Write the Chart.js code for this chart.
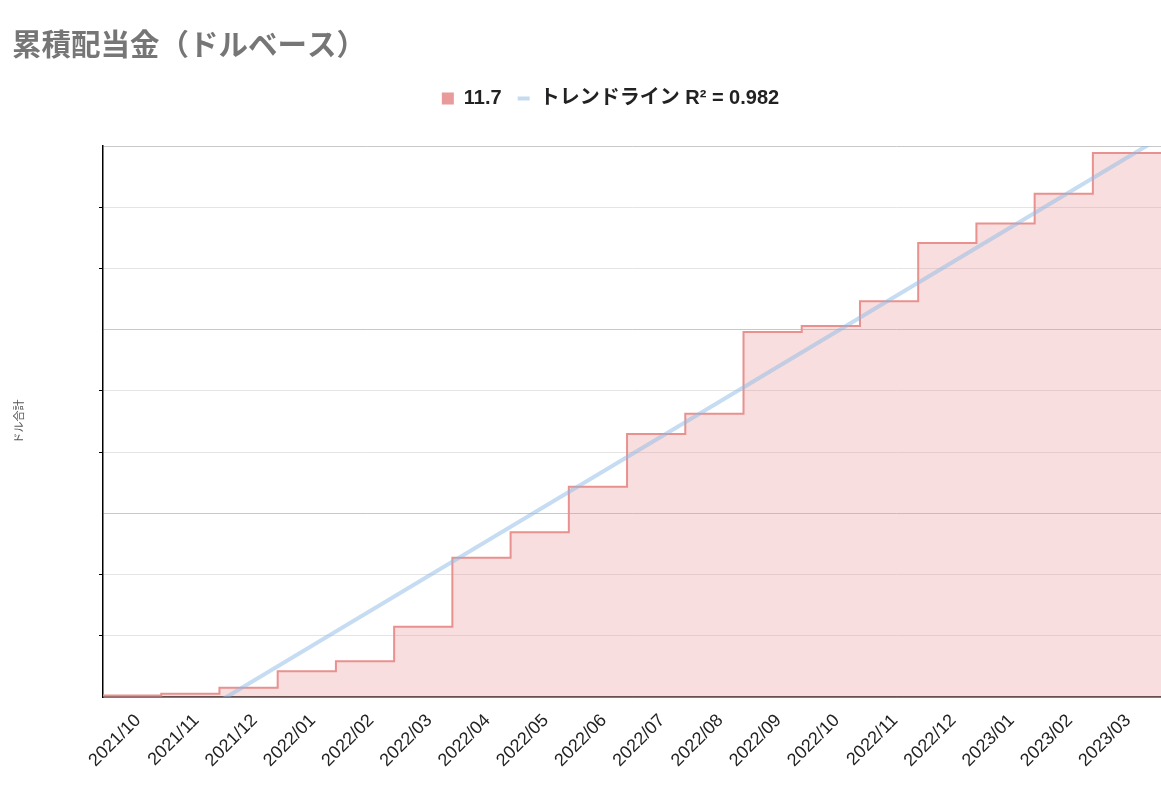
<!DOCTYPE html>
<html lang="ja">
<head>
<meta charset="utf-8">
<title>累積配当金（ドルベース）</title>
<script src="https://cdn.jsdelivr.net/npm/chart.js@4.4.1/dist/chart.umd.min.js"></script>
<style>
  html, body { margin: 0; padding: 0; background: #fff; }
  #wrap { width: 1161px; height: 789px; position: relative; }
</style>
</head>
<body>
<div id="wrap"><canvas id="myChart"></canvas></div>
<script>
// 月ラベル (x軸)
var months = ['2021/10', '2021/11', '2021/12', '2022/01', '2022/02', '2022/03',
              '2022/04', '2022/05', '2022/06', '2022/07', '2022/08', '2022/09',
              '2022/10', '2022/11', '2022/12', '2023/01', '2023/02', '2023/03'];
// 累積配当金 (ドル) 各月末
var totals = [0.03, 0.07, 0.20, 0.56, 0.78, 1.53, 3.03, 3.59, 4.58, 5.73,
              6.17, 7.95, 8.08, 8.62, 9.89, 10.31, 10.96, 11.85];
// x軸の右端 (最終月は途中まで)
var xEnd = 18.17;
// トレンドライン 両端
var trendX = [0, 18.17];
var trendY = [-1.61, 12.19];
var seriesLabel = '11.7';
var trendLabel = 'トレンドライン R² = 0.982';
var yMax = 12;

var FONT = "'Liberation Sans', 'Noto Sans CJK JP', sans-serif";

// 階段線: 各月の値を月の始まりから終わりまで
var stepData = months.map(function (m, i) { return { x: i, y: totals[i] }; });
stepData.push({ x: xEnd, y: totals[totals.length - 1] });

var trendData = trendX.map(function (x, i) { return { x: x, y: trendY[i] }; });

var legendShift = {
    id: 'legendShift',
    afterLayout: function (chart) {
        chart.legend.left += 24;
        chart.legend.right += 24;
    }
};

var ctx = document.getElementById('myChart').getContext('2d');
var myChart = new Chart(ctx, {
    type: 'line',
    data: {
        datasets: [
        // トレンドライン (上に描く)
        {
            label: trendLabel,
            data: trendData,
            borderColor: 'rgba(140, 185, 230, 0.5)',
            borderWidth: 4,
            pointRadius: 0,
            fill: false,
            clip: 0
        },
        // 累積
        {
            label: seriesLabel,
            data: stepData,
            stepped: 'before',
            borderColor: '#e8918f',
            backgroundColor: 'rgba(232, 145, 145, 0.3)',
            borderWidth: 2,
            pointRadius: 0,
            fill: 'origin'
        }
    ]
    },
    plugins: [legendShift],
    options: {
        responsive: true,
        maintainAspectRatio: false,
        animation: false,
        layout: { padding: { left: 12, right: 0, top: 0, bottom: 0 } },
        plugins: {
            title: {
                display: true,
                text: '累積配当金（ドルベース）',
                align: 'start',
                color: '#767676',
                font: { family: FONT, size: 29.5, weight: 'bold' },
                padding: { top: 29, bottom: 8 }
            },
            subtitle: {
                display: true,
                text: '',
                weight: 500,
                font: { size: 23 },
                padding: 0
            },
            legend: {
                display: true,
                labels: {
                    usePointStyle: true,
                    pointStyleWidth: 12,
                    boxHeight: 12,
                    padding: 16,
                    color: '#222',
                    font: { family: FONT, size: 20, weight: 'bold' },
                    sort: function (a, b) { return b.datasetIndex - a.datasetIndex; },
                    generateLabels: function (chart) {
                        return chart.data.datasets.map(function (ds, i) {
                            var isTrend = i === 0;
                            return {
                                text: ds.label,
                                datasetIndex: i,
                                pointStyle: isTrend ? 'line' : 'rect',
                                fillStyle: isTrend ? '#c5dcf0' : '#e99a9a',
                                strokeStyle: isTrend ? '#c5dcf0' : '#e99a9a',
                                lineWidth: isTrend ? 4 : 0,
                                fontColor: '#222',
                                hidden: false
                            };
                        });
                    }
                }
            },
            tooltip: { enabled: false }
        },
        scales: {
            x: {
                type: 'linear',
                min: 0,
                max: xEnd,
                afterBuildTicks: function (scale) {
                    scale.ticks = months.map(function (m, i) { return { value: i + 0.5 }; });
                },
                afterFit: function (scale) { scale.height = 92; },
                grid: { display: false, drawTicks: false },
                border: { display: true, color: '#333', width: 1.5 },
                ticks: {
                    autoSkip: false,
                    minRotation: 45,
                    maxRotation: 45,
                    padding: 13,
                    labelOffset: 6,
                    color: '#222',
                    font: { family: FONT, size: 18 },
                    callback: function (value, index) { return months[index]; }
                }
            },
            y: {
                min: 0,
                max: yMax,
                afterBuildTicks: function (scale) {
                    var t = [];
                    for (var i = 0; i <= 9; i++) t.push({ value: yMax * i / 9 });
                    scale.ticks = t;
                },
                afterFit: function (scale) { scale.width = 91; },
                title: {
                    display: true,
                    text: 'ドル合計',
                    color: '#555',
                    font: { family: FONT, size: 11 },
                    padding: { top: 1, bottom: 0 }
                },
                ticks: { display: false },
                border: { display: true, color: '#000', width: 1.5 },
                grid: {
                    drawTicks: true,
                    tickLength: 4,
                    color: function (c) { return c.index % 3 === 0 ? '#c8c8c8' : '#e4e4e4'; },
                    tickColor: function (c) { return c.index % 3 === 0 ? 'rgba(0,0,0,0)' : '#000'; },
                    lineWidth: 1
                }
            }
        }
    }
});
</script>
</body>
</html>
